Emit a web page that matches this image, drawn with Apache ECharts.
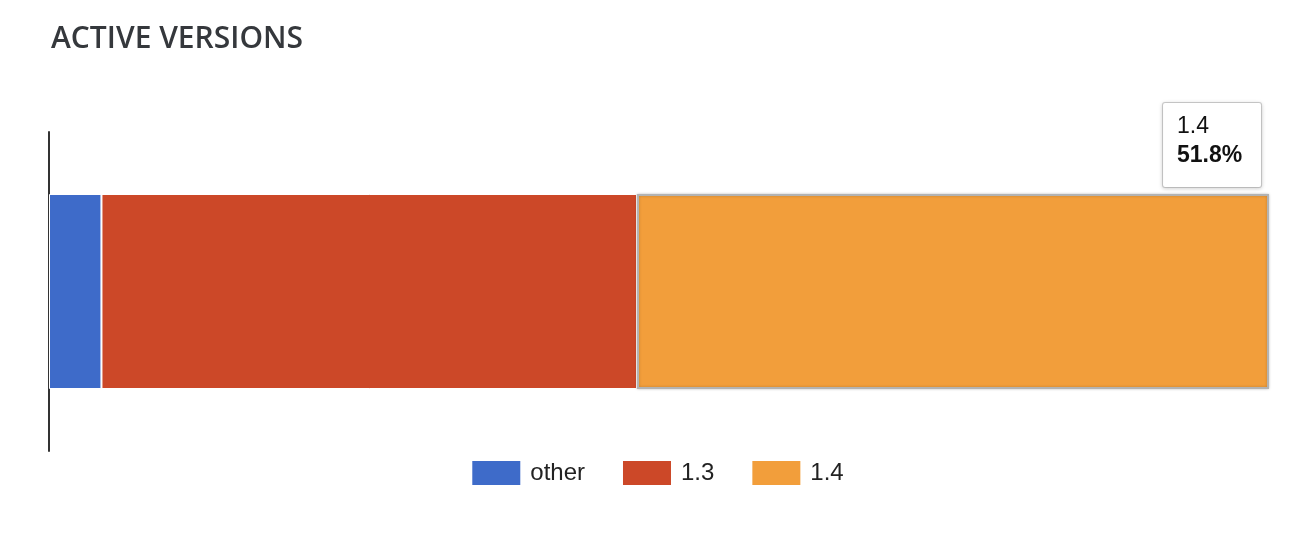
<!DOCTYPE html>
<html><head><meta charset="utf-8">
<script src="https://cdn.jsdelivr.net/npm/echarts@6/dist/echarts.min.js"></script>
<style>html,body{margin:0;padding:0;background:#fff}#c{width:1316px;height:536px}</style>
</head><body><div id="c"></div>
<script>
const categories = ['versions'];
const seriesNames = ['other', '1.3', '1.4'];
const otherValues = [4.3];
const v13Values = [43.9];
const v14Values = [51.8];
const colors = ['#3e6bc9', '#cc4828', '#f29e3b'];

const chart = echarts.init(document.getElementById('c'));
const mk = (name, data, color, extra) => Object.assign({
  name, type: 'bar', stack: 'all', data, barWidth: 195,
  itemStyle: { color, borderColor: '#fff', borderWidth: 1 },
  emphasis: { disabled: true }, animation: false
}, extra || {});

chart.setOption({
  animation: false,
  title: {
    text: 'ACTIVE VERSIONS',
    left: 46, top: 19,
    textStyle: { fontFamily: 'Open Sans', fontWeight: 600, fontSize: 30, color: '#35383c' }
  },
  grid: { left: 49, right: 47, top: 132, bottom: 85 },
  xAxis: { type: 'value', min: 0, max: 100, show: false, splitLine: { show: false } },
  yAxis: {
    type: 'category', data: categories,
    axisLine: { show: true, lineStyle: { color: '#333', width: 2 } },
    axisTick: { show: false }, axisLabel: { show: false }, splitLine: { show: false }
  },
  legend: {
    data: seriesNames, top: 456, left: 'center', icon: 'rect',
    itemWidth: 48, itemHeight: 24, itemGap: 38,
    itemStyle: { borderWidth: 0, shadowBlur: 0 },
    textStyle: { fontFamily: 'Liberation Sans, Arial', fontSize: 24, color: '#222', padding: [0, 0, 0, 5] }
  },
  series: [
    mk(seriesNames[0], otherValues, colors[0]),
    mk(seriesNames[1], v13Values, colors[1]),
    mk(seriesNames[2], v14Values, colors[2], {
      itemStyle: { color: colors[2], borderColor: '#b3b3b3', borderWidth: 2, shadowBlur: 3, shadowColor: 'rgba(0,0,0,0.2)' },
      label: {
        show: true, position: [526, -91],
        formatter: p => '{a|' + p.seriesName + '}\n{b|' + p.value + '%}',
        backgroundColor: '#fff', borderColor: '#cccccc', borderWidth: 1, borderRadius: 2,
        shadowBlur: 4, shadowColor: 'rgba(0,0,0,0.15)', shadowOffsetY: 1,
        padding: [9, 14, 17, 14], width: 70, align: 'left',
        rich: {
          a: { fontFamily: 'Liberation Sans, Arial', fontSize: 23, lineHeight: 29, color: '#111' },
          b: { fontFamily: 'Liberation Sans, Arial', fontSize: 23, lineHeight: 29, fontWeight: 'bold', color: '#111' }
        }
      }
    })
  ]
});
</script></body></html>
